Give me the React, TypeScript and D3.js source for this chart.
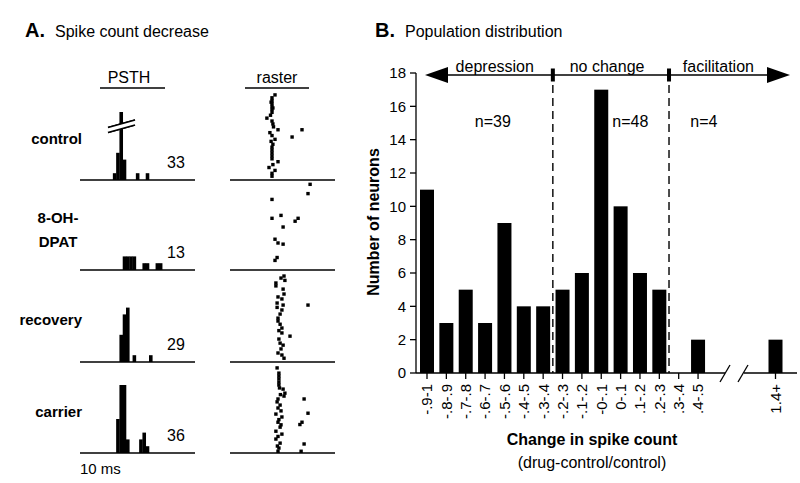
import React from 'react';
import * as d3 from 'd3';

const FONT = '"Liberation Sans", Arial, Helvetica, sans-serif';

// ---------- Panel A data ----------
const conditionNames = ['control', '8-OH-DPAT', 'recovery', 'carrier'];
const spikeTotals = [33, 13, 29, 36];
// PSTH counts per 1-ms bin
const psthControl = [0, 0, 0, 0, 0, 0, 0, 0, 0, 0, 1, 4, 23, 3, 0, 0, 0, 1, 0, 0, 1];
const psthDpat = [0, 0, 0, 0, 0, 0, 0, 0, 0, 0, 0, 0, 0, 2, 2, 2, 2, 0, 0, 1, 1, 0, 0, 1, 1];
const psthRecovery = [0, 0, 0, 0, 0, 0, 0, 0, 0, 0, 0, 0, 4, 7, 8, 0, 1, 0, 0, 0, 0, 1];
const psthCarrier = [0, 0, 0, 0, 0, 0, 0, 0, 0, 0, 0, 5, 12, 11, 2, 0, 0, 0, 2, 3, 1];
// raster spikes: [time ms, trial]
const rasterControl = [
  [15, 1], [14, 2], [14, 3], [13.7, 3.5], [14, 4], [14, 5], [14.3, 5.5], [14, 6], [14, 7], [13.5, 8], [12.3, 9],
  [14, 10], [14.3, 11], [14.5, 12], [16, 13], [24, 13], [13.3, 14], [14, 15], [20.7, 15.5], [15, 16.3],
  [13.7, 17], [14.3, 18], [14, 19], [14, 20], [14, 21], [14, 22], [14, 23], [16, 24], [14.3, 25],
  [13, 26], [15, 27], [14, 28], [14, 29],
];
const rasterDpat = [
  [26.7, 0.8], [26, 4], [14, 6], [17, 11.5], [14, 12.5], [22.7, 12.5], [21.7, 13.5], [17.7, 15.5],
  [15, 19.7], [16, 21], [17.7, 21.4], [15.7, 26], [15, 27],
];
const rasterRecovery = [
  [18, 0.7], [17, 1.4], [18.3, 2.2], [15.3, 3.1], [15.3, 4.1], [17.7, 5.2], [18, 6.9], [16, 7.9], [17.3, 8.6],
  [15.7, 10], [17.7, 10.7], [26, 10.7], [15.7, 11.5], [17.3, 12.4], [16.7, 13.8], [16, 15.2], [16, 16.2],
  [16.7, 17.3], [17.3, 18.6], [16.3, 19.5], [17.3, 20.3], [20, 21.4], [16.3, 22.4], [16.7, 23.8],
  [17.7, 24.5], [17, 25.8], [16, 27.2], [17.3, 27.9], [18, 29],
];
const rasterCarrier = [
  [15.7, 1], [16.3, 2.8], [16.3, 3.8], [16.3, 4.8], [16.3, 5.9], [16.3, 6.9], [16.5, 7.9], [17.7, 8.3],
  [18.3, 9.7], [16.8, 10.2], [18, 10.7], [16, 11.7], [24.7, 11.7], [15.7, 12.7], [16.7, 13.8], [16, 14.8],
  [17, 15.8], [26, 16.6], [15.3, 16.9], [17.3, 17.9], [16.3, 18.8], [16, 19.7], [24, 19.7], [23.3, 20.5],
  [17, 20.6], [16.7, 21.4], [15.3, 22.8], [17.3, 23.8], [16, 24.6], [15.3, 25.5], [16.7, 26.9],
  [24.7, 27.2], [15.8, 27.9], [16.3, 28.6], [23.7, 29.7], [16, 29.7],
];

// ---------- Panel B data ----------
const binLabels = ['-.9-1', '-.8-.9', '-.7-.8', '-.6-.7', '-.5-.6', '-.4-.5', '-.3-.4', '-.2-.3', '-.1-.2',
  '-0-.1', '0-.1', '.1-.2', '.2-.3', '.3-.4', '.4-.5', '1.4+'];
const neuronCounts = [11, 3, 5, 3, 9, 4, 4, 5, 6, 17, 10, 6, 5, 0, 2, 2];
const yTicks = [0, 2, 4, 6, 8, 10, 12, 14, 16, 18];
const groupNames = ['depression', 'no change', 'facilitation'];
const groupN = [39, 48, 4];

const psths = [psthControl, psthDpat, psthRecovery, psthCarrier];
const rasters = [rasterControl, rasterDpat, rasterRecovery, rasterCarrier];

export default function App() {
  // Panel A geometry
  const baselines = [180, 270, 362, 453];
  const psthX = d3.scaleLinear().domain([0, 35]).range([80, 195]);
  const rasterX = d3.scaleLinear().domain([0, 35]).range([230, 335]);
  const clipCount = 10;
  const unitPx = 6.8;
  const dot = 3.4;

  // Panel B geometry
  const slotOf = (i: number) => (i < 15 ? i : i + 3);
  const xB = d3.scaleLinear().domain([0, 18]).range([427, 775.5]);
  const yB = d3.scaleLinear().domain([0, 18]).range([373, 73]);
  const barW = 14;
  const bounds = [6.5, 12.5];
  const groupLabelX = [xB(3.5), xB(9.3), xB(15.05)];
  const groupNX = [xB(3.4), xB(10.5), xB(14.3)];
  const arrowY = 75;

  return (
    <svg width={800} height={483} style={{ position: 'absolute', left: 0, top: 0, background: '#fff' }}
      fontFamily={FONT}>
      <rect width={800} height={483} fill="#fff" />
      {/* ---------- Panel A ---------- */}
      <text x={25} y={37} fontSize={20} fontWeight="bold">A.</text>
      <text x={55} y={37} fontSize={16}>Spike count decrease</text>
      <text x={129} y={83} fontSize={16} textAnchor="middle">PSTH</text>
      <line x1={100} x2={165} y1={88} y2={88} stroke="#000" strokeWidth={1.5} />
      <text x={277} y={83} fontSize={16} textAnchor="middle">raster</text>
      <line x1={245} x2={309} y1={88} y2={88} stroke="#000" strokeWidth={1.5} />

      {conditionNames.map((name, ci) => {
        const base = baselines[ci];
        const yP = d3.scaleLinear().domain([0, 1]).range([base, base - unitPx]);
        const top = base - 88;
        const yR = d3.scaleLinear().domain([0, 30.3]).range([top, base]);
        const bw = psthX(1) - psthX(0);
        return (
          <g key={name}>
            {ci === 1 ? (
              <text x={58} fontSize={15} fontWeight="bold" textAnchor="middle">
                <tspan x={58} y={223}>8-OH-</tspan>
                <tspan x={58} y={247}>DPAT</tspan>
              </text>
            ) : (
              <text x={82} y={[144, 0, 325, 417][ci]} fontSize={15} fontWeight="bold" textAnchor="end">{name}</text>
            )}
            {psths[ci].map((c, bi) => c > 0 ? (
              <rect key={bi} x={psthX(bi)} width={bw + 0.3} y={yP(Math.min(c, clipCount))}
                height={base - yP(Math.min(c, clipCount))} fill="#000" />
            ) : null)}
            {psths[ci].some((c) => c > clipCount) && (
              <g>
                <polygon points="108,127.5 135,120 135,125 108,132.5" fill="#fff" />
                <line x1={108} y1={127.5} x2={135} y2={120} stroke="#000" strokeWidth={1.3} />
                <line x1={108} y1={132.5} x2={135} y2={125} stroke="#000" strokeWidth={1.3} />
              </g>
            )}
            <line x1={80} x2={195} y1={base} y2={base} stroke="#000" strokeWidth={1.3} />
            <text x={176} y={base - 12} fontSize={16} textAnchor="middle">{spikeTotals[ci]}</text>
            {rasters[ci].map(([t, tr], k) => (
              <rect key={k} x={rasterX(t) - dot / 2} y={yR(tr) - dot / 2} width={dot} height={dot} fill="#000" />
            ))}
            <line x1={230} x2={335} y1={base} y2={base} stroke="#000" strokeWidth={1.3} />
          </g>
        );
      })}
      <text x={80} y={474} fontSize={15}>10 ms</text>

      {/* ---------- Panel B ---------- */}
      <text x={375} y={37} fontSize={20} fontWeight="bold">B.</text>
      <text x={405} y={37} fontSize={16}>Population distribution</text>

      {/* bars */}
      {neuronCounts.map((v, i) => v > 0 ? (
        <rect key={i} x={xB(slotOf(i)) - barW / 2} width={barW} y={yB(v)} height={yB(0) - yB(v)} fill="#000" />
      ) : null)}

      {/* y axis */}
      <line x1={416} x2={416} y1={yB(18)} y2={yB(0)} stroke="#000" strokeWidth={1.3} />
      {yTicks.map((t) => (
        <g key={t}>
          <line x1={410} x2={416} y1={yB(t)} y2={yB(t)} stroke="#000" strokeWidth={1.3} />
          <text x={406} y={yB(t)} dy="0.36em" fontSize={15} textAnchor="end">{t}</text>
        </g>
      ))}
      <text transform={`translate(379,222) rotate(-90)`} fontSize={16} fontWeight="bold" textAnchor="middle">
        Number of neurons
      </text>

      {/* x axis with break */}
      <line x1={416} x2={725} y1={yB(0)} y2={yB(0)} stroke="#000" strokeWidth={1.3} />
      <line x1={744} x2={797} y1={yB(0)} y2={yB(0)} stroke="#000" strokeWidth={1.3} />
      <line x1={720} y1={382} x2={730} y2={365} stroke="#000" strokeWidth={1.3} />
      <line x1={738} y1={382} x2={748} y2={365} stroke="#000" strokeWidth={1.3} />
      {binLabels.map((lab, i) => {
        const cx = xB(slotOf(i));
        return (
          <g key={lab}>
            <line x1={cx} x2={cx} y1={yB(0)} y2={yB(0) + 6} stroke="#000" strokeWidth={1.3} />
            <text transform={`translate(${cx},384) rotate(-90)`} dy="0.36em" fontSize={15} textAnchor="end">{lab}</text>
          </g>
        );
      })}
      <text x={592} y={445} fontSize={16} fontWeight="bold" textAnchor="middle">Change in spike count</text>
      <text x={592} y={468} fontSize={16} textAnchor="middle">(drug-control/control)</text>

      {/* group boundaries */}
      {bounds.map((b) => (
        <g key={b}>
          <line x1={xB(b)} x2={xB(b)} y1={85} y2={yB(0)} stroke="#000" strokeWidth={1.4} strokeDasharray="8,5" />
          <rect x={xB(b) - 2} y={arrowY - 6.5} width={4} height={13} fill="#000" />
        </g>
      ))}
      <line x1={440} x2={775} y1={arrowY} y2={arrowY} stroke="#000" strokeWidth={1.5} />
      <polygon points={`425,${arrowY} 448,${arrowY - 8} 448,${arrowY + 8}`} fill="#000" />
      <polygon points={`790,${arrowY} 767,${arrowY - 8} 767,${arrowY + 8}`} fill="#000" />
      {groupNames.map((g, i) => (
        <g key={g}>
          <text x={groupLabelX[i]} y={72} fontSize={16} textAnchor="middle">{g}</text>
          <text x={groupNX[i]} y={127} fontSize={16} textAnchor="middle">n={groupN[i]}</text>
        </g>
      ))}
    </svg>
  );
}
